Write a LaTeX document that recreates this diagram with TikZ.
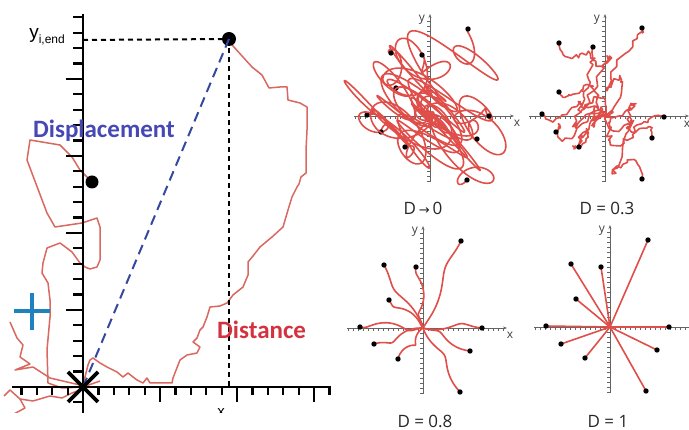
\documentclass[tikz,border=0pt]{standalone}
\usepackage{fontspec}
\setmainfont{Open Sans}
\newfontfamily\calibri{Carlito}
\newfontfamily\plainsans{Liberation Sans}
\newfontfamily\arrowfont{DejaVu Sans}
\usetikzlibrary{arrows.meta}
\definecolor{walkred}{RGB}{216,104,96}
\definecolor{trailred}{RGB}{224,78,74}
\definecolor{dispblue}{RGB}{52,72,160}
\definecolor{textblue}{RGB}{70,72,182}
\definecolor{textred}{RGB}{212,50,62}
\definecolor{plusblue}{RGB}{30,130,192}
\definecolor{axisgray}{RGB}{100,100,100}

\tikzset{
  axis/.style={line width=2.4pt, black},
  tick/.style={line width=2.2pt, black},
  guide/.style={line width=2pt, black, dash pattern=on 5pt off 4pt},
  walk/.style={walkred, line width=1.5pt, line join=round},
  trail/.style={trailred, line width=1.6pt, line join=round},
  paxis/.style={axisgray, line width=0.9pt, -{Stealth[length=4pt, width=3pt]}},
  ptick/.style={axisgray, line width=0.6pt},
  plabel/.style={font=\fontsize{12}{12}\selectfont, text=black!75},
  ptitle/.style={font=\fontsize{17}{20}\selectfont, text=black!85},
  bigword/.style={font=\calibri\bfseries\fontsize{25}{30}\selectfont}
}

% axes of one small panel, #1 = prefix for the node names
\newcommand{\panelaxes}[1]{%
  \draw[paxis] (-76,0) -- (84,0);
  \draw[paxis] (0,66) -- (0,-102);
  \foreach \k in {-15,...,16} \draw[ptick] (\k*5,0) -- ++(0,2.6);
  \foreach \k in {-13,...,19} \draw[ptick] (0,-\k*5) -- ++(-2.6,0);
  \node[plabel] (#1-y) at (-8,-96) {y};
}

\begin{document}
\begin{tikzpicture}[x=1pt, y=-1pt]
\useasboundingbox (0,0) rectangle (689,430);

% ---- left: one trajectory ----
\begin{scope}
  \clip (0,0) rectangle (340,413);
  \draw[walk] (229,39) -- (233,46) -- (252,67) -- (262,75) -- (269,88) -- (280,87)
    -- (287,87) -- (288,100) -- (300,103) -- (307,107) -- (307,130) -- (306,150)
    -- (306,173) -- (301,177) -- (299,184) -- (297,187) -- (292,197) -- (288,210)
    -- (283,227) -- (272,237) -- (260,247) -- (253,256) -- (248,262) -- (248,275)
    -- (243,287) -- (233,295) -- (227,303) -- (220,306) -- (210,307) -- (207,317)
    -- (203,327) -- (200,330) -- (197,338) -- (193,342) -- (200,347) -- (197,353)
    -- (187,355) -- (180,360) -- (173,378) -- (172,383) -- (150,383) -- (147,378)
    -- (143,383) -- (137,380) -- (133,377) -- (128,373) -- (123,377) -- (117,372)
    -- (107,367) -- (100,363) -- (93,358) -- (90,360) -- (88,365) -- (85,377) -- (83,387)
    -- (100,381);
  \draw[walk] (83,387) -- (62,388) -- (48,383) -- (47,350) -- (50,317) -- (50,300)
    -- (48,283) -- (42,273) -- (43,263) -- (47,248) -- (60,243) -- (72,252) -- (80,263)
    -- (85,267) -- (90,269) -- (97,267) -- (100,260) -- (100,227) -- (97,218) -- (82,223)
    -- (55,227) -- (47,213) -- (27,160) -- (30,140) -- (60,145) -- (72,157) -- (80,170)
    -- (92,182);
  \draw[walk] (10,322) -- (17,338) -- (23,345) -- (20,357) -- (30,364) -- (15,370)
    -- (33,367) -- (50,378) -- (80,385);
  \draw[walk] (83,389) -- (72,393) -- (62,398) -- (50,396) -- (33,401) -- (20,399)
    -- (10,390) -- (4,396);
  \draw[walk] (20,399) -- (25,408) -- (12,415);

  % axes and ticks
  \draw[axis] (12,387) -- (331,387);
  \draw[axis] (83,414) -- (83,14);
  \foreach \k in {-4,...,-1,1,2,...,16} {
    \pgfmathsetmacro\tl{ifthenelse(mod(\k,5)==0,15,8)}
    \draw[tick] ({83+15.4*\k},387) -- ++(0,\tl);
  }
  \foreach \k in {-1,1,2,...,24} {
    \pgfmathsetmacro\tl{ifthenelse(mod(\k,5)==0,17,10)}
    \draw[tick] (83,{387-15.4*\k}) -- ++(-\tl,0);
  }
  \node[font=\plainsans\fontsize{15}{15}\selectfont] (xend) at (221,413) {x};

  % guides
  \coordinate (start) at (83,387);
  \coordinate (yaxisend) at (83,40);
  \coordinate (xaxisend) at (229,387);
  \fill (229,39) circle (7) coordinate (finish);
  \fill (92,182) circle (6.5) coordinate (other);
  \draw[guide] (yaxisend) -- (finish);
  \draw[guide] (finish) -- (xaxisend);
  \draw[dispblue, line width=2pt, dash pattern=on 10pt off 6pt] (start) -- (finish);
  \draw[line width=3.6pt] (68,372) -- (98,402);
  \draw[line width=3.6pt] (68,402) -- (98,372);
  \draw[plusblue, line width=3.6pt] (14,311) -- (50,311);
  \draw[plusblue, line width=3.6pt] (32,293) -- (32,330);

  \node[anchor=east, inner sep=0pt, font=\plainsans] (yend) at (65,37)
    {\fontsize{19}{20}\selectfont y\raisebox{-5pt}{\fontsize{12}{12}\selectfont i,end}};
  \node[bigword, text=textblue, anchor=west, inner sep=0pt] (displabel) at (33,131) {Displacement};
  \node[bigword, text=textred, anchor=west, inner sep=0pt] (distlabel) at (217,330) {Distance};
\end{scope}

% ---- D -> 0 ----
\begin{scope}[shift={(430,116)}]
  \panelaxes{p0}
  \node[plabel] (p0-x) at (87,7) {x};
  \foreach \ex/\ey/\A/\w/\p in {38/-87/30/1150/30, -39/-63/32/1400/200, -8/-61/26/1700/90,
      -34/-28/30/1250/300, -63/-1/34/1000/150, 59/0/28/1550/10, -49/16/30/1300/250,
      -25/31/27/1800/60, 47/23/31/1200/120, 37/64/29/1450/330} {
    \draw[trail] plot[domain=0:1, samples=180, smooth, variable=\t]
      ({\t*\ex+sin(180*\t)*(\A*cos(\w*\t+\p)+24*cos(0.37*\w*\t+2*\p))},
       {\t*\ey+sin(180*\t)*(0.8*\A*sin(1.15*\w*\t+\p)+22*sin(0.41*\w*\t+2*\p))});
    \fill (\ex,\ey) circle (2.7);
  }
\end{scope}
\node[ptitle] (t0) at (423,208) {D\,{\arrowfont\fontsize{13}{13}\selectfont →}\,0};

% ---- D = 0.3 ----
\pgfmathsetseed{11}
\begin{scope}[shift={(605,116)}]
  \panelaxes{p3}
  \node[plabel] (p3-x) at (82,8) {x};
  \foreach \ex/\ey/\A/\w/\p in {37/-88/18/420/40, -46/-73/16/380/200, -12/-69/17/500/100,
      -46/-24/15/300/280, -63/-2/14/460/160, 59/1/16/350/20, -49/16/15/520/240,
      -26/31/17/400/70, 47/22/16/330/130, 37/63/18/480/310} {
    \draw[trail] plot[domain=0:1, samples=40, variable=\t]
      ({\t*\ex+sin(180*\t)*(\A*sin(\w*\t+\p)+3.5*rand)},
       {\t*\ey+sin(180*\t)*(\A*cos(1.4*\w*\t+\p)+3.5*rand)});
    \fill (\ex,\ey) circle (2.7);
  }
\end{scope}
\node[ptitle] (t3) at (607,208) {D = 0.3};

% ---- D = 0.8 ----
\begin{scope}[shift={(423,328)}]
  \panelaxes{p8}
  \node[plabel] (p8-x) at (87,7) {x};
  \foreach \ex/\ey/\w/\p in {38/-87/300/20, -39/-63/260/120, -7/-61/420/200,
      -34/-28/280/60, -63/-1/380/300, 59/0/240/10, -49/16/300/170,
      -25/31/360/250, 47/23/260/90, 37/64/330/330} {
    \draw[trail] plot[domain=0:1, samples=60, smooth, variable=\t]
      ({\t*\ex+5*sin(180*\t)*sin(\w*\t+\p)}, {\t*\ey+5*sin(180*\t)*cos(\w*\t+\p)});
    \fill (\ex,\ey) circle (2.7);
  }
\end{scope}
\node[ptitle] (t8) at (425,421) {D = 0.8};

% ---- D = 1 ----
\begin{scope}[shift={(610,327)}]
  \panelaxes{p1}
  \foreach \ex/\ey in {38/-87, -39/-63, -9/-60, -34/-28, -64/-1, 59/0,
      -49/17, -25/31, 47/23, 36/64} {
    \draw[trail] (0,0) -- (\ex,\ey);
    \fill (\ex,\ey) circle (2.7);
  }
\end{scope}
\node[ptitle] (t1) at (608,421) {D = 1};
\end{tikzpicture}
\end{document}
